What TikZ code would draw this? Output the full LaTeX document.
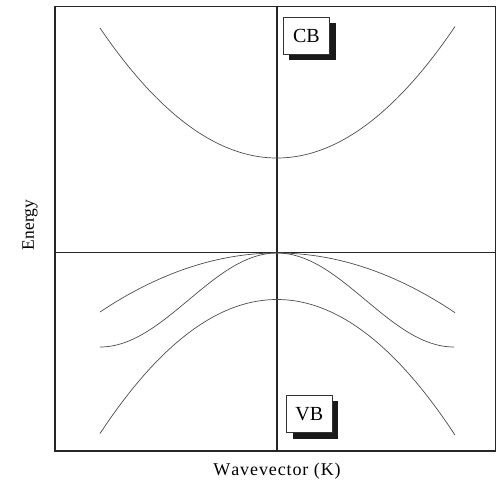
\documentclass[tikz,border=0pt]{standalone}
\usepackage{fontspec}
\setmainfont{Liberation Serif}
\tikzset{
  frame/.style={line width=1.3pt, black!85},
  band/.style={line width=0.7pt, black!70},
  lbl/.style={draw=black!80, line width=0.6pt, fill=white, minimum width=46pt, minimum height=37pt, inner sep=0pt, font=\fontsize{20}{22}\selectfont},
  shade/.style={fill=black!90, draw=none}
}
\begin{document}
\begin{tikzpicture}[x=1pt,y=-1pt]
\useasboundingbox (0,0) rectangle (496,485);
% frame and axes
\draw[frame] (55,6.5) rectangle (495.5,451);
\draw[frame] (277,6.5) -- (277,451);
\draw[frame] (55,252.7) -- (495.5,252.7);
% conduction band
\draw[band] plot[domain=-177:178, samples=80, smooth] ({277+\x},{158-130*(\x/177)^2});
% light-hole band
\draw[band] plot[domain=-177:178, samples=80, smooth] ({277+\x},{253+59*(\x/177)^2});
% heavy-hole band
\draw[band] plot[domain=-177:177, samples=121, smooth] ({277+\x},{253+47*(1-cos(\x/177*180))});
% split-off band
\draw[band] plot[domain=-177:178, samples=80, smooth] ({277+\x},{299.5+134*(\x/177)^2});
% labels
\fill[shade] (288.7,23.3) rectangle (336,60);
\node[lbl] (cb) at (306.4,35.7) {CB};
\fill[shade] (292.7,401) rectangle (337.7,439.3);
\node[lbl] (vb) at (309.2,414.2) {VB};
\node[font=\fontsize{17.5}{19}\selectfont, rotate=90] (en) at (30,225) {Energy};
\node[font=\fontsize{18}{20}\selectfont\addfontfeature{LetterSpace=5}] (wk) at (277,471) {W\kern1pt avevector (K)};
\end{tikzpicture}
\end{document}
